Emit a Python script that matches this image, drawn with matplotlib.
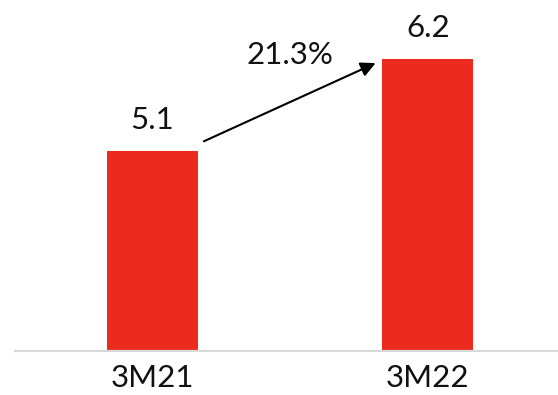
import matplotlib.pyplot as plt

periods = ['3M21', '3M22']
values = [5.1, 6.2]
growth_label = '21.3%'

red = '#EC2A1E'
plt.rcParams['font.family'] = ['Lato', 'DejaVu Sans']

fig = plt.figure(figsize=(5.58, 3.95), dpi=100)
ax = fig.add_axes([0.026, 0.111, 0.974, 0.889])

x = list(range(len(periods)))
ax.bar(x, values, width=0.33, color=red, zorder=2)

# value labels above each bar
for xi, v in zip(x, values):
    ax.annotate(f'{v:.1f}', (xi, v), xytext=(0, 16), textcoords='offset points',
                ha='center', va='baseline', fontsize=22.5, color='#111111')

# growth arrow between the bar tops
ax.annotate('', xy=(x[1] - 0.19, values[1] - 0.045), xytext=(x[0] + 0.187, values[0] + 0.12),
            arrowprops=dict(arrowstyle='-|>', color='black', lw=1.5, mutation_scale=22,
                            shrinkA=0, shrinkB=0))
ax.text(0.5, 6.25, growth_label, ha='center', va='center', fontsize=22.5, color='#111111')

ax.set_xlim(-0.5, 1.472)
ax.set_ylim(2.71, 6.91)
ax.set_xticks(x)
ax.set_xticklabels(periods, fontsize=22.5, color='#111111')
ax.tick_params(axis='x', length=0, pad=9)
ax.set_yticks([])
for side in ['top', 'right', 'left']:
    ax.spines[side].set_visible(False)
ax.spines['bottom'].set_color('#D9D9D9')
ax.spines['bottom'].set_linewidth(1.6)

fig.savefig('out.png', dpi=100)
